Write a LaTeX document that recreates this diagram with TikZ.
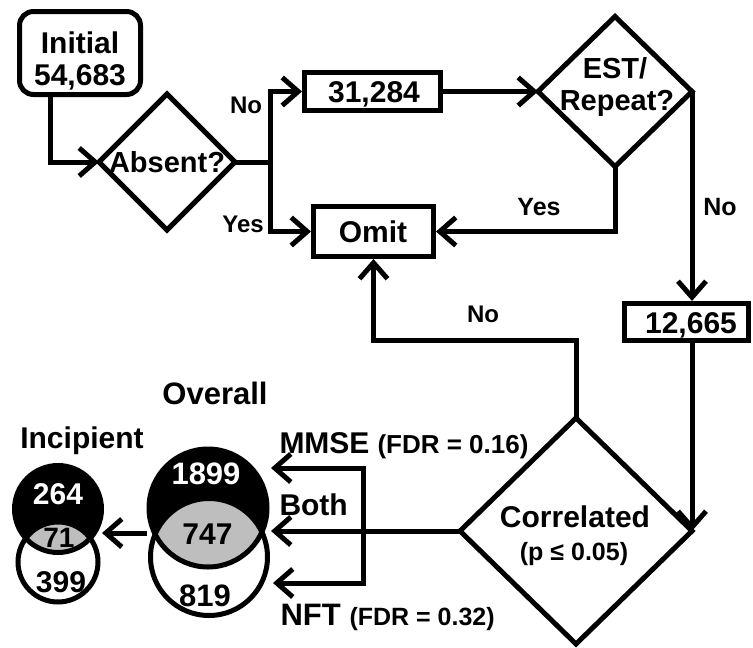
\documentclass[tikz,border=0pt]{standalone}
\usepackage{fontspec}
\setmainfont{Liberation Sans}
\usetikzlibrary{shapes.geometric,arrows.meta}
\definecolor{lensgray}{RGB}{190,190,190}
\newcommand{\myfs}[1]{\fontsize{#1}{#1}\selectfont}
\begin{document}
\begin{tikzpicture}[x=1pt,y=-1pt,line width=5pt,
  arr/.style={-{Straight Barb[length=16pt,width=28pt]}},
  box/.style={draw,rectangle,inner sep=0pt,line width=5pt},
  dia/.style={draw,diamond,inner sep=0pt,outer sep=0pt,line width=5pt},
  txt/.style={inner sep=0pt,font=\bfseries},
  ring/.style={draw,circle,inner sep=0pt,line width=5pt}]
\useasboundingbox (0,0) rectangle (753,648);

% boxes and diamonds
\node[box,rounded corners=14pt,minimum width=121pt,minimum height=83pt] (init) at (80,53) {};
\node[txt,anchor=base] (initT1) at (80,53) {\myfs{30}Initial};
\node[txt,anchor=base] (initT2) at (80,85) {\myfs{30}54,683};

\node[dia,minimum width=136pt,minimum height=136pt] (absent) at (167,162) {};
\node[txt,anchor=base] (absentT) at (167,172) {\myfs{29}Absent?};

\node[box,minimum width=136pt,minimum height=38pt] (b31) at (372.5,91.5) {};
\node[txt,anchor=base] (b31T) at (374,102) {\myfs{30}31,284};

\node[dia,minimum width=154pt,minimum height=150pt] (est) at (615,91.5) {};
\node[txt,anchor=base] (estT1) at (615,78) {\myfs{29}EST/};
\node[txt,anchor=base] (estT2) at (617,110) {\myfs{29}Repeat?};

\node[box,minimum width=120pt,minimum height=50pt] (omit) at (373.5,231.5) {};
\node[txt,anchor=base] (omitT) at (373,242) {\myfs{30}Omit};

\node[box,minimum width=124pt,minimum height=37pt] (b12) at (686.5,322) {};
\node[txt,anchor=base] (b12T) at (691,333) {\myfs{30}12,665};

\node[dia,minimum width=232pt,minimum height=226pt] (corr) at (576,531) {};
\node[txt,anchor=base] (corrT1) at (575,527) {\myfs{30}Correlated};
\node[txt,anchor=base] (corrT2) at (574,560) {\myfs{25}(p ≤ 0.05)};

% connectors
\draw[arr] ([xshift=-30pt]init.south) |- (absent.west);
\coordinate (j1) at (270,162);
\draw (absent.east) -- (j1);
\draw[arr] (j1) |- (b31.west);
\draw[arr] (j1) |- (omit.west);
\draw[arr] (b31.east) -- (est.west);
\draw[arr] (est.south) |- (omit.east);
\draw[arr] (est.east) -- (est.east |- b12.north);
\draw[arr] (b12.south -| corr.east) -- (corr.east);
\coordinate (nb) at (576,340);
\draw[arr] (corr.north) -- (nb) -| (omit.south);

\coordinate (bothTip) at (271,531);
\coordinate (brM) at (363,531);
\coordinate (mmseTip) at (271,468);
\coordinate (nftTip) at (273,583);
\draw[arr] (corr.west) -- (bothTip);
\draw[arr] (brM) |- (mmseTip);
\draw[arr] (brM) |- (nftTip);

\coordinate (ovL) at (147,533);
\coordinate (inR) at (102,533);
\draw[arr] (ovL) -- (inR);

% labels
\node[txt,anchor=base] (lNo1) at (246,113) {\myfs{24}No};
\node[txt,anchor=base] (lYes1) at (243,232) {\myfs{24}Yes};
\node[txt,anchor=base] (lYes2) at (539,215) {\myfs{25}Yes};
\node[txt,anchor=base] (lNo2) at (720,215) {\myfs{25}No};
\node[txt,anchor=base] (lNo3) at (483,322) {\myfs{24}No};
\node[txt,anchor=base west] (lMMSE) at (277,453) {\myfs{30}MMSE};
\node[txt,anchor=base west] (lFDR1) at (375,453) {\myfs{26}(FDR = 0.16)};
\node[txt,anchor=base west] (lBoth) at (277,515) {\myfs{30}Both};
\node[txt,anchor=base west] (lNFT) at (278,625) {\myfs{31}NFT};
\node[txt,anchor=base west] (lFDR2) at (347,625) {\myfs{25}(FDR = 0.32)};

% Overall Venn
\fill[white] (209,557) circle[radius=58.5pt];
\fill[black] (208,508) circle[radius=59pt];
\begin{scope}
  \clip (209,557) circle[radius=58.5pt];
  \fill[lensgray] (208,508) circle[radius=59pt];
\end{scope}
\node[ring,minimum size=117pt] (ovW) at (209,557) {};
\node[ring,minimum size=118pt] (ovB) at (208,508) {};
\node[txt,white,anchor=base] (t1899) at (206,484) {\myfs{31}1899};
\node[txt,anchor=base] (t747) at (207.5,544) {\myfs{30}747};
\node[txt,anchor=base] (t819) at (205,606) {\myfs{31}819};
\node[txt,anchor=base] (tOverall) at (215,404) {\myfs{31}Overall};

% Incipient Venn
\fill[white] (58,562) circle[radius=40pt];
\fill[black] (58,509) circle[radius=43.5pt];
\begin{scope}
  \clip (58,562) circle[radius=40pt];
  \fill[lensgray] (58,509) circle[radius=43.5pt];
\end{scope}
\node[ring,minimum size=80pt] (inW) at (58,562) {};
\node[ring,minimum size=87pt] (inB) at (58,509) {};
\node[txt,white,anchor=base] (t264) at (58,504) {\myfs{30}264};
\node[txt,anchor=base] (t71) at (59,547) {\myfs{28}71};
\node[txt,anchor=base] (t399) at (61,592) {\myfs{30}399};
\node[txt,anchor=base] (tInc) at (82,448) {\myfs{30}Incipient};
\end{tikzpicture}
\end{document}
